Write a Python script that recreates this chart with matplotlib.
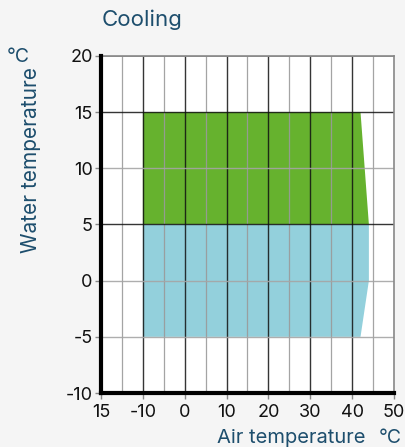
import matplotlib
matplotlib.use("Agg")
import matplotlib.pyplot as plt

# Operating envelope data (air temperature on x, water temperature on y)
x_tick_pos = [-20, -10, 0, 10, 20, 30, 40, 50]
x_tick_labels = ["15", "-10", "0", "10", "20", "30", "40", "50"]
y_ticks = [-10, -5, 0, 5, 10, 15, 20]

# Upper (green) region boundary
green_x = [-10, 42, 44, -10]
green_y = [15, 15, 5, 5]
# Lower (blue) region boundary
blue_x = [-10, 44, 44, 42, -10]
blue_y = [5, 5, 0, -5, -5]

TEXT = "#1d4e6d"
FONT = "Inter"

fig = plt.figure(figsize=(4.06, 4.47), dpi=100, facecolor="#f5f5f5")
ax = fig.add_axes([101 / 406, 1 - 393 / 447, 293 / 406, 337 / 447])
ax.set_facecolor("white")
ax.set_xlim(-20, 50)
ax.set_ylim(-10, 20)

ax.fill(green_x, green_y, color="#66b22e", lw=0, zorder=1)
ax.fill(blue_x, blue_y, color="#93d0dc", lw=0, zorder=1)

# grid
for gx in range(-15, 50, 5):
    major = gx % 10 == 0 and gx >= -10
    ax.axvline(gx, color="#111111" if major else "#9a9a9a",
               lw=1.0 if major else 0.9, alpha=0.85 if major else 0.9, zorder=2)
for gy in [-5, 0, 5, 10, 15]:
    dark = gy in (5, 15)
    ax.axhline(gy, color="#111111" if dark else "#a5a5a5",
               lw=1.0, alpha=0.85 if dark else 0.9, zorder=2)
ax.axhline(20, color="#888888", lw=1.2, zorder=2)

for s in ("top", "right"):
    ax.spines[s].set_color("#888888")
    ax.spines[s].set_linewidth(1.2)
for s in ("left", "bottom"):
    ax.spines[s].set_color("black")
    ax.spines[s].set_linewidth(3)
    ax.spines[s].set_zorder(3)

ax.set_xticks(x_tick_pos)
ax.set_xticklabels(x_tick_labels)
ax.set_yticks(y_ticks)
ax.set_yticklabels([str(v) for v in y_ticks])
ax.tick_params(axis="both", colors="#888888", length=4, width=1, labelsize=13,
               labelcolor="#111111", pad=2)
ax.tick_params(axis="x", pad=4)
for lab in ax.get_xticklabels() + ax.get_yticklabels():
    lab.set_fontfamily(FONT)

fig.text(102 / 406, 1 - 20 / 447, "Cooling", fontsize=16, color=TEXT,
         family=FONT, ha="left", va="center")
fig.text(31 / 406, 1 - 160 / 447, "Water temperature", rotation=90,
         fontsize=15, color=TEXT, family=FONT, ha="center", va="center")
fig.text(18 / 406, 1 - 57 / 447, "°C", fontsize=14, color=TEXT,
         family=FONT, ha="center", va="center")
fig.text(291 / 406, 1 - 438 / 447, "Air temperature", fontsize=14.5, color=TEXT,
         family=FONT, ha="center", va="center")
fig.text(390 / 406, 1 - 438 / 447, "°C", fontsize=14, color=TEXT,
         family=FONT, ha="center", va="center")

fig.savefig("out.png", dpi=100, facecolor=fig.get_facecolor())
